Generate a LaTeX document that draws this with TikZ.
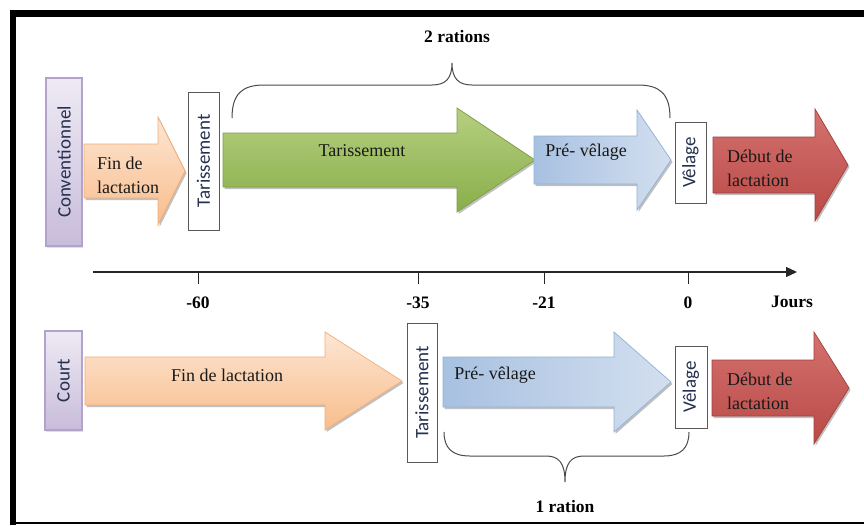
\documentclass[tikz,border=0pt]{standalone}
\usepackage{fontspec}
\setmainfont{Liberation Serif}
\newfontfamily\boxfont{Carlito}
\usetikzlibrary{shadows,arrows.meta}

% palette
\definecolor{orTop}{HTML}{FDE6D3}
\definecolor{orBot}{HTML}{F8BD8C}
\definecolor{orEdge}{HTML}{F2AE78}
\definecolor{grTop}{HTML}{B5CF80}
\definecolor{grBot}{HTML}{8AAE4A}
\definecolor{grEdge}{HTML}{7F9F44}
\definecolor{blLeft}{HTML}{A8C1E1}
\definecolor{blRight}{HTML}{D3DFEF}
\definecolor{blEdge}{HTML}{93B0D6}
\definecolor{rdTop}{HTML}{D4726F}
\definecolor{rdBot}{HTML}{B94946}
\definecolor{rdEdge}{HTML}{A33F3C}
\definecolor{puLight}{HTML}{EEEAF4}
\definecolor{puDark}{HTML}{C8BCDB}
\definecolor{puEdge}{HTML}{B2A2CC}
\definecolor{boxText}{HTML}{24304F}
\definecolor{braceGray}{HTML}{4A4A4A}

% block arrow: style, body start x, head start x, tip x, centre y, half body, half head
\newcommand\phasearrow[7]{%
  \path[#1] (#2,#5-#6) -- (#3,#5-#6) -- (#3,#5-#7) -- (#4,#5)
    -- (#3,#5+#7) -- (#3,#5+#6) -- (#2,#5+#6) -- cycle;}

\begin{document}
\begin{tikzpicture}[x=1pt,y=-1pt,
  shadowed/.style={drop shadow={shadow xshift=1.5pt,shadow yshift=-2pt,opacity=0.35,fill=black!70}},
  orangearrow/.style={shadowed,draw=orEdge,line width=0.7pt,top color=orTop,bottom color=orBot},
  greenarrow/.style={shadowed,draw=grEdge,line width=0.7pt,top color=grTop,bottom color=grBot},
  bluearrow/.style={shadowed,draw=blEdge,line width=0.7pt,left color=blLeft,right color=blRight},
  redarrow/.style={shadowed,draw=rdEdge,line width=0.7pt,top color=rdTop,bottom color=rdBot},
  phasetext/.style={font=\fontsize{18}{24}\selectfont,text=black!90,align=left,inner sep=0pt},
  stagebox/.style={draw=black!65,fill=white,line width=0.9pt,rotate=90,inner sep=0pt,
    font=\boxfont\fontsize{19}{19}\selectfont,text=boxText},
  groupbox/.style={draw=puEdge,line width=1.8pt,top color=puLight,bottom color=puDark,
    rotate=90,inner sep=0pt,font=\boxfont\fontsize{19}{19}\selectfont,text=boxText,
    drop shadow={shadow xshift=1pt,shadow yshift=-1.5pt,opacity=0.25}},
  daylabel/.style={font=\bfseries\fontsize{17.5}{17.5}\selectfont,inner sep=0pt},
  brace/.style={draw=braceGray,line width=1pt},
  axis/.style={draw=black!85,line width=1.3pt},
  tick/.style={draw=black!85,line width=0.9pt}]

\useasboundingbox (0,0) rectangle (864,525);
\fill[white] (0,0) rectangle (864,525);

% frame
\fill[black] (10,10) rectangle (16,525);
\fill[black] (10,10) rectangle (864,17);
\fill[black] (10,521.5) rectangle (864,523.5);

% ---------- conventional dry period ----------
\node[groupbox,minimum width=168pt,minimum height=36pt] (conv) at (64,162) {Conventionnel};

\phasearrow{orangearrow}{84}{158}{185}{171}{27}{54}
\node[phasetext,anchor=west] (finA) at (97,175) {Fin de\\lactation};

\node[stagebox,minimum width=138pt,minimum height=31pt] (tarA) at (203.5,161) {Tarissement};

\phasearrow{greenarrow}{223}{457}{535}{160}{27}{52}
\node[phasetext] (tarG) at (362,151) {Tarissement};

\phasearrow{bluearrow}{534}{637}{671}{160}{24}{50}
\node[phasetext] (preA) at (586,152) {Pré- vêlage};

\node[stagebox,minimum width=81pt,minimum height=31pt] (velA) at (690.5,162.5) {Vêlage};

\phasearrow{redarrow}{713}{815}{848}{165}{28}{56}
\node[phasetext,anchor=west] (debA) at (727,168) {Début de\\lactation};

% brace over the two rations
\coordinate (bA0) at (232,118);
\coordinate (bA1) at (670,118);
\coordinate (bAtip) at (452,63);
\draw[brace] (bA0) .. controls (232,94) and (242,85) .. (264,85) -- (432,85)
  .. controls (446,85) and (452,78) .. (bAtip)
  .. controls (452,78) and (458,85) .. (472,85) -- (638,85)
  .. controls (660,85) and (670,94) .. (bA1);
\node[daylabel] (twoR) at (457,37) {2 rations};

% ---------- time axis ----------
\coordinate (ax0) at (93,272);
\coordinate (ax1) at (797,272);
\draw[axis,-{Triangle[length=11pt,width=10pt]}] (ax0) -- (ax1);
\foreach \name/\xx/\lab in {m60/198/-60, m35/418/-35, m21/544/-21, d0/688/0}{
  \coordinate (tk\name) at (\xx,272);
  \coordinate (tb\name) at (\xx,284);
  \draw[tick] (tk\name) -- (tb\name);
  \node[daylabel] (lab\name) at (\xx,303) {\lab};
}
\node[daylabel] (jours) at (792,302) {Jours};

% ---------- short dry period ----------
\node[groupbox,minimum width=99pt,minimum height=37pt] (court) at (63.5,380.5) {Court};

\phasearrow{orangearrow}{85}{325}{402}{381}{24}{49}
\node[phasetext] (finB) at (227,375) {Fin de lactation};

\node[stagebox,minimum width=139pt,minimum height=30pt] (tarB) at (422,392.5) {Tarissement};

\phasearrow{bluearrow}{443}{614}{671}{382}{25}{50}
\node[phasetext] (preB) at (495,375) {Pré- vêlage};

\node[stagebox,minimum width=82pt,minimum height=32pt] (velB) at (691,387) {Vêlage};

\phasearrow{redarrow}{712}{814}{849}{388}{28}{56}
\node[phasetext,anchor=west] (debB) at (727,391) {Début de\\lactation};

% brace under the single ration
\coordinate (bB0) at (444,432);
\coordinate (bB1) at (689,432);
\coordinate (bBtip) at (565,482);
\draw[brace] (bB0) .. controls (444,448) and (452,456) .. (470,456) -- (546,456)
  .. controls (559,456) and (565,463) .. (bBtip)
  .. controls (565,463) and (571,456) .. (584,456) -- (664,456)
  .. controls (681,456) and (689,448) .. (bB1);
\node[daylabel] (oneR) at (565,507) {1 ration};

\end{tikzpicture}
\end{document}
